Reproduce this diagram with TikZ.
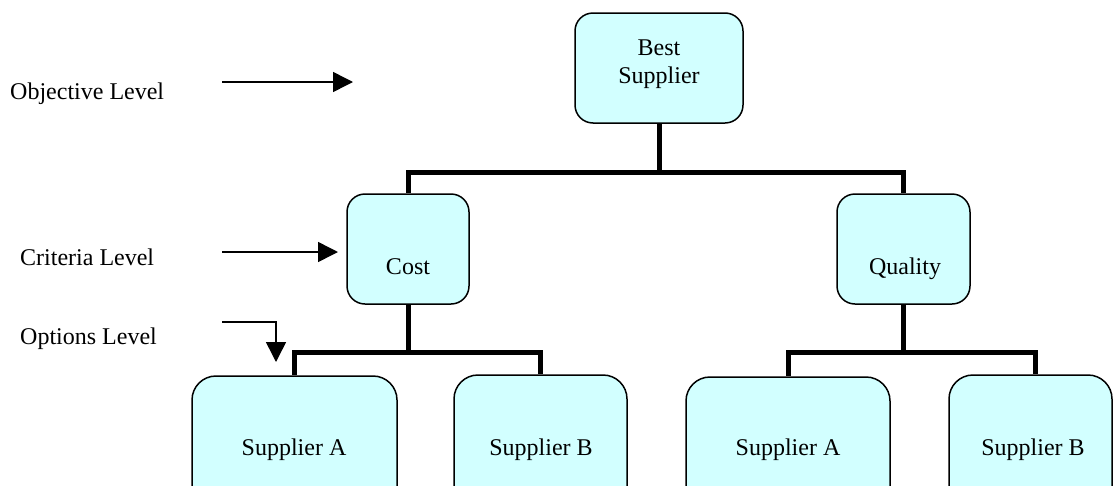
\documentclass[tikz,border=0pt]{standalone}
\usepackage{fontspec}
\setmainfont{Liberation Serif}
\usetikzlibrary{arrows.meta}
\definecolor{boxfill}{RGB}{210,255,255}

\begin{document}
\begin{tikzpicture}[x=1pt, y=-1pt,
    box/.style={draw, line width=1.5pt, fill=boxfill, rounded corners=#1, inner sep=0pt},
    box/.default=18pt,
    txt/.style={font=\fontsize{24}{28}\selectfont, inner sep=0pt},
    link/.style={line width=5pt},
    pointer/.style={line width=1.5pt, -{Triangle[length=20pt, width=20pt]}}]
    \useasboundingbox (0,0) rectangle (1113,485);
    \clip (0,0) rectangle (1113,485);

    % levels on the left
    \node[txt, anchor=base west] (objlbl) at (10,99) {Objective Level};
    \node[txt, anchor=base west] (critlbl) at (20,265) {Criteria Level};
    \node[txt, anchor=base west] (optlbl) at (20,344) {Options Level};
    \coordinate (objfrom) at (222,82);   \coordinate (objto) at (353,82);
    \coordinate (critfrom) at (222,252); \coordinate (critto) at (338,252);
    \coordinate (optfrom) at (222,322);  \coordinate (optto) at (276,362);
    \draw[pointer] (objfrom) -- (objto);
    \draw[pointer] (critfrom) -- (critto);
    \draw[pointer] (optfrom) -| (optto);

    % hierarchy
    \node[box, minimum width=168pt, minimum height=110pt] (best) at (659,68) {};
    \node[box, minimum width=122pt, minimum height=110pt] (cost) at (408,249) {};
    \node[box, minimum width=133pt, minimum height=110pt] (quality) at (903.5,249) {};
    \node[box=24pt, minimum width=205pt, minimum height=144pt] (supA1) at (294.5,448) {};
    \node[box=24pt, minimum width=173pt, minimum height=144pt] (supB1) at (540.5,447) {};
    \node[box=24pt, minimum width=204pt, minimum height=144pt] (supA2) at (788,449) {};
    \node[box=24pt, minimum width=163pt, minimum height=144pt] (supB2) at (1030.5,447) {};

    \node[txt, align=center] (besttxt) at (659,64) {Best\\Supplier};
    \node[txt, anchor=base] (costtxt) at (408,274) {Cost};
    \node[txt, anchor=base] (qualitytxt) at (905,274) {Quality};
    \node[txt, anchor=base] (supA1txt) at (294,455) {Supplier A};
    \node[txt, anchor=base] (supB1txt) at (541,455) {Supplier B};
    \node[txt, anchor=base] (supA2txt) at (788,455) {Supplier A};
    \node[txt, anchor=base] (supB2txt) at (1033,455) {Supplier B};

    \draw[link] (best.south) -- ++(0,49) -| (cost.north);
    \draw[link] (best.south) -- ++(0,49) -| (quality.north);
    \draw[link] (cost.south) -- ++(0,48) -| (supA1.north);
    \draw[link] (cost.south) -- ++(0,48) -| (supB1.north);
    \draw[link] (quality.south) -- ++(0,48) -| (supA2.north);
    \draw[link] (quality.south) -- ++(0,48) -| ([xshift=5]supB2.north);
\end{tikzpicture}
\end{document}
